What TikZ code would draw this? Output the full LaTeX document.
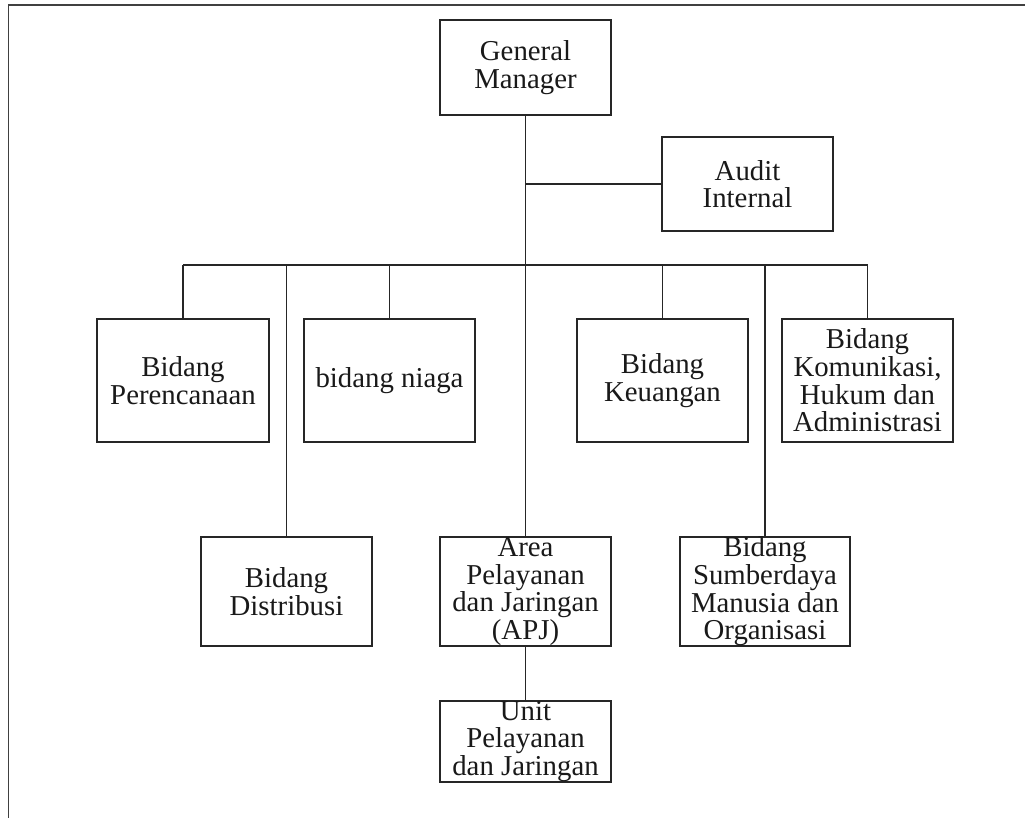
\documentclass[tikz,border=0pt]{standalone}
\usepackage{fontspec}
\setmainfont{Liberation Serif}
\begin{document}
\begin{tikzpicture}[x=1pt,y=-1pt,
  orgbox/.style={draw=black!85, line width=1.8pt, rectangle, inner sep=0pt, align=center,
    font=\fontsize{28.8}{27.6}\selectfont, text=black!90},
  link/.style={draw=black!85, line width=1.8pt},
  frameline/.style={draw=black!75, line width=1.8pt}]
\useasboundingbox (0,0) rectangle (1025,818);
% outer frame (top and left only)
\coordinate (fTL) at (8.5,5);
\coordinate (fTR) at (1025,5);
\coordinate (fBL) at (8.5,818);
\draw[frameline] (fTR) -- (fTL) -- (fBL);
% nodes
\node[orgbox, minimum width=171pt, minimum height=95pt] (gm) at (525.5,67.5) {General\\Manager};
\node[orgbox, minimum width=171pt, minimum height=94pt] (audit) at (747.5,184) {Audit\\Internal};
\node[orgbox, minimum width=172pt, minimum height=123pt] (per) at (183,380.5) {Bidang\\Perencanaan};
\node[orgbox, minimum width=171pt, minimum height=123pt] (niaga) at (389.5,380.5) {bidang niaga};
\node[orgbox, minimum width=171pt, minimum height=123pt] (keu) at (662.5,380.5) {Bidang\\Keuangan};
\node[orgbox, minimum width=171pt, minimum height=123pt] (kom) at (867.5,380.5) {Bidang\\Komunikasi,\\Hukum dan\\Administrasi};
\node[orgbox, minimum width=171pt, minimum height=109pt] (dist) at (286.5,591.5) {Bidang\\Distribusi};
\node[orgbox, minimum width=171pt, minimum height=109pt] (apj) at (525.5,591.5) {Area\\Pelayanan\\dan Jaringan\\(APJ)};
\node[orgbox, minimum width=170pt, minimum height=109pt] (sdm) at (765,591.5) {Bidang\\Sumberdaya\\Manusia dan\\Organisasi};
\node[orgbox, minimum width=171pt, minimum height=81pt] (unit) at (525.5,741.5) {Unit\\Pelayanan\\dan Jaringan};
% bus coordinates
\coordinate (auditj) at (525.5,184);
\coordinate (busC) at (525.5,265);
\coordinate (busL) at (183,265);
\coordinate (busR) at (867.5,265);
% connectors
\draw[link] (gm.south) -- (apj.north);
\draw[link] (auditj) -- (audit.west);
\draw[link] (busL) -- (busR);
\draw[link] (busL) -- (per.north);
\draw[link] (dist.north |- busC) -- (dist.north);
\draw[link] (niaga.north |- busC) -- (niaga.north);
\draw[link] (keu.north |- busC) -- (keu.north);
\draw[link] (sdm.north |- busC) -- (sdm.north);
\draw[link] (busR) -- (kom.north);
\draw[link] (apj.south) -- (unit.north);
\end{tikzpicture}
\end{document}
